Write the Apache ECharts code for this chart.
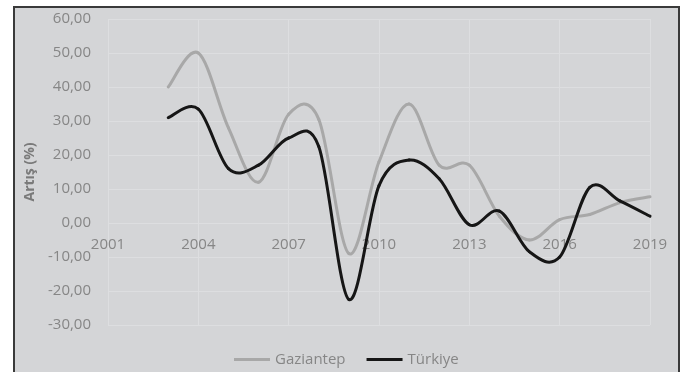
<!DOCTYPE html>
<html>
<head>
<meta charset="utf-8">
<script src="https://cdn.jsdelivr.net/npm/echarts@6/dist/echarts.min.js"></script>
<style>
  html, body { margin: 0; padding: 0; background: #ffffff; }
  #chart { width: 685px; height: 372px; }
</style>
</head>
<body>
<div id="chart"></div>
<script>
// Annual growth (%) by year
const years = [2003, 2004, 2005, 2006, 2007, 2008, 2009, 2010, 2011, 2012, 2013, 2014, 2015, 2016, 2017, 2018, 2019];
const gaziantep = [40, 50, 28, 12, 32, 30.5, -9, 18, 35, 17, 17, 2, -5, 1, 2.5, 6, 7.7];
const turkiye = [31, 33.5, 16, 17, 25, 22.5, -22.5, 11, 18.5, 13, -0.5, 3.5, -8.5, -10, 10.5, 6.5, 2];
const seriesNames = ['Gaziantep', 'Türkiye'];
const yAxisTitle = 'Artış (%)';

const labelColor = '#868686';
const gridColor = '#dddee0';
const fontFamily = '"Open Sans", "DejaVu Sans", sans-serif';

const pairs = (vals) => years.map((y, i) => [y, vals[i]]);

// Smoothed line drawn segment by segment as cubic Béziers (Catmull-Rom style),
// each control point taken from the neighbouring data points in pixel space.
function smoothLine(vals, color) {
  return function (params, api) {
    const i = params.dataIndex;
    if (i >= years.length - 1) return null;
    const pt = (j) => {
      const k = Math.max(0, Math.min(years.length - 1, j));
      return api.coord([years[k], vals[k]]);
    };
    const p0 = pt(i - 1), p1 = pt(i), p2 = pt(i + 1), p3 = pt(i + 2);
    const t = 1 / 6;
    return {
      type: 'bezierCurve',
      shape: {
        x1: p1[0], y1: p1[1],
        x2: p2[0], y2: p2[1],
        cpx1: p1[0] + (p2[0] - p0[0]) * t,
        cpy1: p1[1] + (p2[1] - p0[1]) * t,
        cpx2: p2[0] - (p3[0] - p1[0]) * t,
        cpy2: p2[1] - (p3[1] - p1[1]) * t
      },
      style: { stroke: color, lineWidth: 3, fill: null, lineCap: 'round' }
    };
  };
}

const chart = echarts.init(document.getElementById('chart'));
chart.setOption({
  animation: false,
  backgroundColor: '#ffffff',
  graphic: [{
    type: 'rect',
    z: -10,
    silent: true,
    shape: { x: 14, y: 7, width: 665, height: 380 },
    style: { fill: '#d4d5d7', stroke: '#3a3a3a', lineWidth: 2 }
  }],
  grid: { left: 108, right: 35, top: 19, bottom: 47, containLabel: false },
  xAxis: {
    type: 'value',
    min: 2001, max: 2019, interval: 3,
    // year labels sit just under the 0,00 line (3 of the 9 bands above the bottom)
    offset: -102,
    axisLine: { show: false, onZero: false },
    axisTick: { show: false },
    axisLabel: {
      color: labelColor, fontFamily: fontFamily, fontSize: 15, margin: 14,
      showMinLabel: true, showMaxLabel: true,
      formatter: (v) => String(v)
    },
    splitLine: { show: true, lineStyle: { color: gridColor, width: 1 } }
  },
  yAxis: {
    type: 'value',
    min: -30, max: 60, interval: 10,
    name: yAxisTitle,
    nameLocation: 'middle',
    nameGap: 63,
    nameRotate: 90,
    nameTextStyle: { color: '#7a7a7a', fontFamily: fontFamily, fontSize: 14, fontWeight: 'bold' },
    axisLine: { show: false, onZero: false },
    axisTick: { show: false },
    axisLabel: {
      color: labelColor, fontFamily: fontFamily, fontSize: 15, margin: 17,
      formatter: (v) => v.toFixed(2).replace('.', ',')
    },
    splitLine: { show: true, lineStyle: { color: gridColor, width: 1 } }
  },
  legend: {
    left: 234, bottom: 5, padding: 0,
    itemWidth: 36, itemHeight: 3, itemGap: 21,
    icon: 'rect',
    textStyle: { color: labelColor, fontFamily: fontFamily, fontSize: 15 },
    data: seriesNames
  },
  series: [
    {
      name: seriesNames[0], type: 'custom',
      renderItem: smoothLine(gaziantep, '#a8a8a8'),
      encode: { x: 0, y: 1 },
      data: pairs(gaziantep),
      itemStyle: { color: '#a8a8a8' }
    },
    {
      name: seriesNames[1], type: 'custom',
      renderItem: smoothLine(turkiye, '#161616'),
      encode: { x: 0, y: 1 },
      data: pairs(turkiye),
      itemStyle: { color: '#161616' }
    }
  ]
});
</script>
</body>
</html>
